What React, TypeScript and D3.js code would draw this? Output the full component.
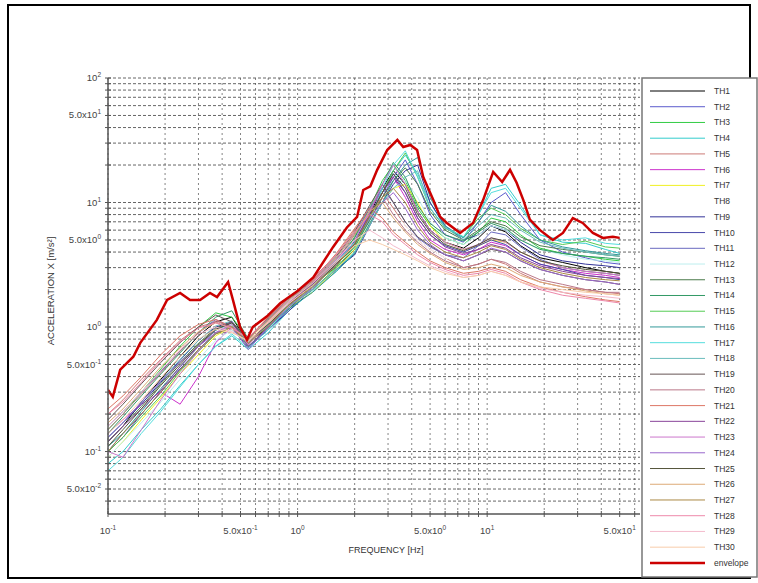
import React, { useEffect } from "react";
import * as d3 from "d3";

// frequencies (Hz) at which the TH curves were read
const FREQ = [0.1, 0.12, 0.15, 0.19, 0.24, 0.3, 0.37, 0.45, 0.55, 0.7, 0.9, 1.2, 1.6, 2.0, 2.4, 2.8, 3.2, 3.7, 4.3, 5.0, 6.0, 7.5, 9.0, 10.5, 12.5, 15, 19, 25, 33, 42, 50];

const TH1 = [0.12, 0.16, 0.25, 0.38, 0.58, 0.85, 1.1, 1.2, 0.74, 1.0, 1.45, 2.3, 3.0, 4.2, 8.0, 13, 18, 14, 8.5, 6.0, 4.8, 4.3, 5.2, 6.5, 5.8, 4.5, 3.6, 3.3, 3.0, 2.8, 2.7];
const TH2 = [0.1, 0.14, 0.2, 0.3, 0.46, 0.66, 0.9, 1.05, 0.7, 0.95, 1.4, 2.0, 3.4, 4.8, 7.0, 11, 16, 22, 14, 8.0, 5.5, 4.8, 7.0, 10, 12, 8.0, 5.0, 4.0, 3.6, 3.3, 3.2];
const TH3 = [0.15, 0.2, 0.3, 0.46, 0.7, 1.0, 1.3, 1.2, 0.8, 1.15, 1.7, 2.2, 3.0, 5.3, 9.0, 15, 20, 15, 9.0, 6.5, 5.2, 4.6, 5.8, 7.5, 7.0, 5.5, 4.3, 3.9, 3.7, 3.5, 3.4];
const TH4 = [0.08, 0.1, 0.15, 0.22, 0.34, 0.5, 0.7, 0.85, 0.66, 0.9, 1.35, 1.95, 2.8, 4.0, 7.5, 12, 18, 24, 17, 10, 6.3, 5.2, 8.0, 13, 14, 9.5, 5.5, 4.8, 4.7, 4.2, 3.9];
const TH5 = [0.2, 0.26, 0.38, 0.55, 0.78, 1.0, 1.1, 0.95, 0.78, 1.2, 1.75, 2.45, 3.8, 6.0, 9.0, 12, 9.0, 6.5, 5.0, 4.2, 3.6, 3.0, 3.2, 3.5, 3.2, 2.7, 2.3, 2.1, 2.0, 1.9, 1.85];
const TH6 = [0.14, 0.18, 0.24, 0.3, 0.24, 0.4, 0.75, 1.0, 0.72, 1.05, 1.5, 2.3, 3.6, 4.6, 8.5, 13, 16, 11, 7.0, 5.0, 4.2, 3.8, 4.2, 4.8, 4.5, 3.8, 3.2, 2.9, 2.7, 2.6, 2.5];
const TH7 = [0.09, 0.12, 0.18, 0.27, 0.42, 0.6, 0.85, 1.0, 0.75, 1.1, 1.45, 1.9, 2.9, 4.2, 6.8, 10, 13, 14, 10, 6.5, 4.8, 4.2, 4.5, 5.0, 4.8, 4.0, 3.4, 3.0, 2.8, 2.7, 2.6];
const TH8 = [0.11, 0.15, 0.22, 0.33, 0.5, 0.7, 0.95, 1.05, 0.76, 1.1, 1.5, 2.1, 3.3, 4.6, 7.5, 10, 8.5, 6.5, 5.0, 4.2, 3.6, 3.3, 3.6, 4.0, 3.8, 3.2, 2.8, 2.5, 2.3, 2.2, 2.1];
const TH9 = [0.13, 0.17, 0.24, 0.36, 0.54, 0.78, 1.0, 1.1, 0.7, 0.95, 1.35, 2.0, 2.9, 3.8, 6.5, 10, 14, 18, 20, 10, 6.5, 5.0, 5.5, 6.5, 6.0, 4.8, 3.8, 3.4, 3.2, 3.1, 3.0];
const TH10 = [0.1, 0.13, 0.2, 0.3, 0.46, 0.64, 0.88, 1.0, 0.68, 1.0, 1.55, 2.3, 3.1, 4.9, 8.0, 12, 17, 12, 7.5, 5.5, 4.5, 4.0, 4.5, 5.0, 4.6, 3.8, 3.2, 2.9, 2.6, 2.5, 2.4];
const TH11 = [0.16, 0.21, 0.3, 0.44, 0.64, 0.9, 1.15, 1.0, 0.82, 1.15, 1.65, 2.35, 3.6, 5.6, 9.0, 13, 10, 7.0, 5.2, 4.4, 3.8, 3.6, 4.5, 5.8, 5.5, 4.4, 3.5, 3.0, 2.8, 2.7, 2.6];
const TH12 = [0.09, 0.12, 0.17, 0.25, 0.38, 0.55, 0.78, 0.95, 0.72, 1.05, 1.45, 1.95, 3.0, 4.3, 7.0, 10, 13, 15, 11, 7.0, 5.2, 4.6, 5.5, 6.5, 6.0, 5.0, 4.2, 3.8, 3.5, 3.4, 3.3];
const TH13 = [0.12, 0.16, 0.23, 0.35, 0.52, 0.74, 0.98, 1.1, 0.76, 1.0, 1.4, 2.1, 3.2, 4.4, 7.2, 11, 15, 19, 14, 8.5, 6.0, 5.0, 6.0, 7.0, 6.5, 5.3, 4.5, 4.2, 4.0, 3.8, 3.7];
const TH14 = [0.14, 0.19, 0.28, 0.42, 0.62, 0.9, 1.2, 1.35, 0.8, 1.15, 1.6, 2.25, 3.5, 5.2, 8.5, 14, 21, 16, 9.5, 6.8, 5.5, 4.9, 5.8, 6.8, 6.2, 5.0, 4.2, 3.9, 3.7, 3.6, 3.5];
const TH15 = [0.1, 0.13, 0.19, 0.28, 0.44, 0.64, 0.88, 1.02, 0.7, 0.98, 1.45, 2.0, 3.0, 4.4, 7.5, 12, 18, 25, 16, 9.0, 6.2, 5.3, 7.5, 9.0, 8.0, 6.2, 5.0, 4.6, 4.9, 4.4, 4.3];
const TH16 = [0.11, 0.14, 0.21, 0.32, 0.48, 0.7, 0.94, 1.08, 0.74, 1.05, 1.4, 1.9, 2.8, 3.9, 6.8, 10, 15, 20, 23, 11, 6.5, 5.2, 7.0, 9.5, 8.5, 6.5, 5.0, 4.4, 4.1, 3.9, 3.8];
const TH17 = [0.07, 0.09, 0.14, 0.21, 0.33, 0.5, 0.7, 0.88, 0.68, 0.95, 1.45, 2.1, 3.3, 4.8, 7.5, 13, 20, 26, 16, 9.0, 6.3, 5.3, 8.0, 12, 13, 9.0, 5.5, 5.0, 5.2, 4.7, 4.6];
const TH18 = [0.13, 0.17, 0.25, 0.37, 0.55, 0.78, 1.02, 1.12, 0.76, 1.1, 1.5, 2.0, 2.9, 4.0, 6.5, 10, 13, 16, 18, 9.0, 6.3, 5.0, 6.5, 8.0, 7.5, 6.0, 4.8, 4.3, 4.0, 3.8, 3.7];
const TH19 = [0.18, 0.24, 0.35, 0.52, 0.75, 1.0, 1.25, 1.1, 0.8, 1.18, 1.7, 2.4, 3.7, 5.8, 9.5, 14, 10, 7.0, 5.3, 4.5, 3.8, 3.4, 3.8, 4.2, 4.0, 3.4, 2.9, 2.6, 2.4, 2.3, 2.2];
const TH20 = [0.15, 0.2, 0.29, 0.43, 0.64, 0.9, 1.12, 1.0, 0.74, 1.08, 1.55, 2.2, 3.4, 5.5, 8.5, 11, 8.0, 6.0, 4.8, 4.0, 3.4, 3.0, 3.2, 3.5, 3.3, 2.8, 2.4, 2.2, 2.0, 1.9, 1.9];
const TH21 = [0.22, 0.28, 0.4, 0.6, 0.85, 1.05, 1.15, 1.0, 0.82, 1.2, 1.75, 2.35, 3.9, 6.2, 9.0, 7.5, 5.8, 4.8, 4.0, 3.4, 3.0, 2.7, 2.8, 3.0, 2.8, 2.4, 2.1, 1.9, 1.75, 1.65, 1.6];
const TH22 = [0.12, 0.16, 0.22, 0.31, 0.48, 0.7, 0.95, 1.1, 0.7, 1.0, 1.5, 2.2, 3.3, 4.6, 8.0, 12, 16, 12, 7.5, 5.5, 4.4, 3.9, 4.2, 4.6, 4.3, 3.6, 3.1, 2.8, 2.6, 2.5, 2.45];
const TH23 = [0.1, 0.09, 0.15, 0.26, 0.42, 0.64, 0.9, 1.05, 0.72, 1.1, 1.6, 2.3, 3.5, 5.0, 8.5, 14, 20, 14, 8.5, 6.0, 4.8, 4.2, 4.6, 5.2, 4.8, 4.0, 3.4, 3.0, 2.8, 2.7, 2.6];
const TH24 = [0.13, 0.17, 0.25, 0.37, 0.52, 0.7, 0.9, 1.0, 0.66, 1.0, 1.45, 2.05, 3.2, 4.7, 7.5, 10, 12, 9.0, 6.0, 4.6, 3.8, 3.4, 3.8, 4.3, 4.0, 3.4, 2.9, 2.6, 2.4, 2.3, 2.2];
const TH25 = [0.11, 0.15, 0.22, 0.34, 0.5, 0.72, 0.96, 1.08, 0.78, 1.05, 1.5, 2.15, 3.2, 4.6, 7.8, 12, 17, 13, 8.0, 5.8, 4.6, 4.1, 4.6, 5.2, 4.9, 4.0, 3.4, 3.1, 2.9, 2.8, 2.7];
const TH26 = [0.17, 0.22, 0.32, 0.48, 0.68, 0.92, 1.08, 0.98, 0.8, 1.12, 1.65, 2.3, 3.6, 5.6, 8.5, 10, 7.5, 5.8, 4.6, 3.9, 3.3, 2.9, 3.0, 3.2, 3.0, 2.6, 2.3, 2.1, 1.95, 1.85, 1.8];
const TH27 = [0.1, 0.14, 0.2, 0.3, 0.45, 0.66, 0.88, 1.0, 0.74, 1.02, 1.5, 2.1, 3.1, 4.7, 7.8, 11, 13, 10, 6.5, 4.8, 4.0, 3.6, 4.0, 4.5, 4.2, 3.5, 3.0, 2.7, 2.5, 2.4, 2.35];
const TH28 = [0.2, 0.25, 0.36, 0.54, 0.76, 0.98, 1.08, 0.98, 0.82, 1.15, 1.7, 2.4, 3.8, 5.8, 8.0, 7.0, 5.5, 4.6, 3.8, 3.3, 2.9, 2.6, 2.7, 2.9, 2.7, 2.3, 2.0, 1.8, 1.7, 1.62, 1.56];
const TH29 = [0.16, 0.21, 0.3, 0.45, 0.66, 0.88, 1.0, 0.92, 0.76, 1.1, 1.6, 2.25, 3.4, 5.0, 6.0, 5.2, 4.5, 4.0, 3.5, 3.1, 2.8, 2.5, 2.6, 2.8, 2.6, 2.3, 2.05, 1.9, 1.8, 1.75, 1.7];
const TH30 = [0.14, 0.18, 0.26, 0.39, 0.58, 0.8, 0.96, 0.9, 0.78, 1.08, 1.55, 2.15, 3.3, 4.5, 5.0, 4.6, 4.2, 3.8, 3.4, 3.0, 2.7, 2.5, 2.6, 2.8, 2.6, 2.3, 2.1, 2.0, 1.9, 1.85, 1.8];

// envelope, read on its own finer grid
const ENV_F = [0.1, 0.106, 0.116, 0.136, 0.148, 0.181, 0.205, 0.24, 0.271, 0.306, 0.345, 0.376, 0.43, 0.456, 0.497, 0.541, 0.58, 0.69, 0.81, 1.0, 1.21, 1.54, 1.82, 2.06, 2.22, 2.42, 2.63, 2.97, 3.36, 3.61, 3.93, 4.27, 4.6, 5.2, 5.64, 6.13, 7.2, 8.43, 9.53, 10.76, 12.0, 13.2, 14.3, 15.5, 16.8, 19.0, 22.2, 25.1, 28.3, 31.9, 36.1, 40.8, 46, 50];
const ENV_V = [0.313, 0.275, 0.454, 0.577, 0.746, 1.14, 1.65, 1.88, 1.65, 1.65, 1.88, 1.74, 2.3, 1.65, 1.0, 0.79, 1.0, 1.22, 1.55, 1.95, 2.5, 4.4, 6.3, 7.66, 12.6, 13.5, 18.3, 26.4, 31.8, 27.9, 29, 26.4, 16, 10.5, 7.7, 6.85, 5.7, 6.85, 10.5, 17.6, 14.6, 18.3, 14.4, 10.5, 7.3, 6.0, 5.0, 5.7, 7.5, 6.85, 5.7, 5.2, 5.3, 5.2];

const NAMES = ["TH1", "TH2", "TH3", "TH4", "TH5", "TH6", "TH7", "TH8", "TH9", "TH10", "TH11", "TH12", "TH13", "TH14", "TH15", "TH16", "TH17", "TH18", "TH19", "TH20", "TH21", "TH22", "TH23", "TH24", "TH25", "TH26", "TH27", "TH28", "TH29", "TH30"];
const VALUES = [TH1, TH2, TH3, TH4, TH5, TH6, TH7, TH8, TH9, TH10, TH11, TH12, TH13, TH14, TH15, TH16, TH17, TH18, TH19, TH20, TH21, TH22, TH23, TH24, TH25, TH26, TH27, TH28, TH29, TH30];
const COLORS = ["#000000", "#5a5acc", "#33cc44", "#33cccc", "#cc7a77", "#cc33cc", "#f0f020", "#ffffff", "#333399", "#4848aa", "#6a6ac0", "#bdeeee", "#4a7a4a", "#339966", "#55cc55", "#339999", "#55dddd", "#6abcbc", "#665555", "#bb7788", "#dd7766", "#884499", "#cc77cc", "#9966cc", "#55553a", "#ddaa77", "#aa8844", "#ee88aa", "#f4bbcc", "#f8ccaa"];

const X_TICKS = [0.1, 0.5, 1, 5, 10, 50];
const Y_TICKS = [100, 50, 10, 5, 1, 0.5, 0.1, 0.05];

const W = 758, H = 583;
const L = 108, R = 640, T = 78, B = 514;

function tickParts(v: number) {
  const e = Math.floor(Math.log10(v) + 1e-9);
  const m = v / Math.pow(10, e);
  return { base: Math.abs(m - 1) < 1e-6 ? "10" : `${m.toFixed(1)}x10`, exp: String(e) };
}

export default function App() {
  useEffect(() => {
    document.body.style.margin = "0";
  }, []);

  const x = d3.scaleLog().domain([0.1, 64]).range([L, R]);
  const y = d3.scaleLog().domain([0.0315, 100]).range([B, T]);

  const xGrid: number[] = [];
  [0.1, 1, 10].forEach((d) => { for (let k = 1; k <= 9; k++) if (k * d <= 64) xGrid.push(k * d); });
  const yGrid: number[] = [];
  [0.01, 0.1, 1, 10].forEach((d) => { for (let k = 1; k <= 9; k++) if (k * d >= 0.0315 && k * d <= 100.001) yGrid.push(k * d); });
  yGrid.push(100);

  const line = d3.line<number>().x((_, i) => x(FREQ[i])).y((d) => y(d)).curve(d3.curveLinear);
  const envLine = d3.line<number>().x((_, i) => x(ENV_F[i])).y((d) => y(d)).curve(d3.curveLinear);

  const rowH = 15.73;

  return (
    <svg width={W} height={H} style={{ display: "block", fontFamily: "Liberation Sans, Arial, sans-serif" }}>
      <rect x={0} y={0} width={W} height={H} fill="#fff" />
      <rect x={8} y={5} width={742} height={573} fill="none" stroke="#000" strokeWidth={2} />
      <defs>
        <clipPath id="plot">
          <rect x={L} y={T} width={R - L} height={B - T} />
        </clipPath>
      </defs>

      {/* grid */}
      <g>
        {xGrid.map((v) => (
          <line key={"gx" + v} x1={x(v)} x2={x(v)} y1={T} y2={B} stroke="#777" strokeWidth={0.9} strokeDasharray="2,3" />
        ))}
        {yGrid.map((v) => (
          <line key={"gy" + v} x1={L} x2={R} y1={y(v)} y2={y(v)} stroke="#555" strokeWidth={0.9} strokeDasharray="3,2" />
        ))}
      </g>

      {/* curves */}
      <g clipPath="url(#plot)">
        {VALUES.map((vals, i) => (
          <path key={NAMES[i]} d={line(vals) || ""} fill="none" stroke={COLORS[i]} strokeWidth={1} />
        ))}
        <path d={envLine(ENV_V) || ""} fill="none" stroke="#cc0000" strokeWidth={2.5} />
      </g>

      {/* axes */}
      <line x1={L} x2={L} y1={T} y2={B} stroke="#555" strokeWidth={1.5} />
      <line x1={L} x2={R} y1={B} y2={B} stroke="#555" strokeWidth={1.5} />
      {xGrid.map((v) => (
        <line key={"tx" + v} x1={x(v)} x2={x(v)} y1={B - 3} y2={B + 3} stroke="#555" strokeWidth={1} />
      ))}
      {yGrid.map((v) => (
        <line key={"ty" + v} x1={L - 3} x2={L + 3} y1={y(v)} y2={y(v)} stroke="#555" strokeWidth={1} />
      ))}

      {X_TICKS.map((v) => {
        const p = tickParts(v);
        return (
          <text key={"lx" + v} x={x(v)} y={534} textAnchor="middle" fontSize={9.5} fill="#444">
            <tspan>{p.base}</tspan>
            <tspan dy={-4} fontSize={6.5}>{p.exp}</tspan>
          </text>
        );
      })}
      {Y_TICKS.map((v) => {
        const p = tickParts(v);
        return (
          <text key={"ly" + v} x={101} y={y(v) + 3} textAnchor="end" fontSize={9.5} fill="#444">
            <tspan>{p.base}</tspan>
            <tspan dy={-4} fontSize={6.5}>{p.exp}</tspan>
          </text>
        );
      })}

      <text x={386} y={553} textAnchor="middle" fontSize={9} fill="#333">FREQUENCY [Hz]</text>
      <text transform="translate(54,291) rotate(-90)" textAnchor="middle" fontSize={9.5} fill="#333">ACCELERATION X [m/s²]</text>

      {/* legend */}
      <rect x={642} y={78} width={115} height={499} fill="#fff" stroke="#777" strokeWidth={1.5} />
      {NAMES.map((n, i) => (
        <g key={"lg" + n}>
          <line x1={650} x2={705} y1={91 + i * rowH} y2={91 + i * rowH} stroke={COLORS[i]} strokeWidth={1} />
          <text x={714} y={91 + i * rowH + 3} fontSize={8.5} fill="#333">{n}</text>
        </g>
      ))}
      <line x1={650} x2={705} y1={91 + 30 * rowH} y2={91 + 30 * rowH} stroke="#cc0000" strokeWidth={2.5} />
      <text x={714} y={91 + 30 * rowH + 3} fontSize={8.5} fill="#333">envelope</text>
    </svg>
  );
}
